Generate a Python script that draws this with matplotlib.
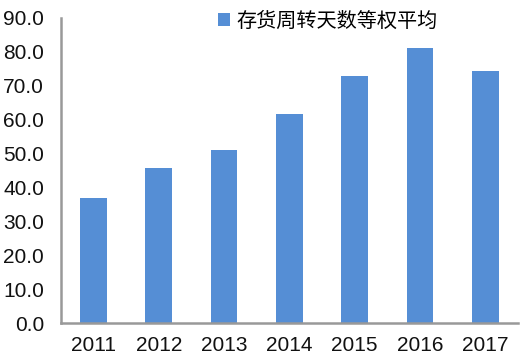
import matplotlib
matplotlib.use('Agg')
import matplotlib.pyplot as plt

years = ['2011', '2012', '2013', '2014', '2015', '2016', '2017']
days = [36.9, 45.7, 51.0, 61.7, 72.9, 81.1, 74.3]
series_name = '存货周转天数等权平均'

plt.rcParams['font.family'] = ['Liberation Sans', 'DejaVu Sans']

fig = plt.figure(figsize=(5.2, 3.59), dpi=100)
ax = fig.add_axes([0.117, 0.1, 0.879, 0.85])

ax.bar(range(len(years)), days, width=0.41, color='#558ed5', label=series_name)

ax.set_xlim(-0.5, len(years) - 0.5)
ax.set_ylim(0, 90)
ax.set_yticks(range(0, 91, 10))
ax.set_yticklabels([f'{v:.1f}' for v in range(0, 91, 10)])
ax.set_xticks(range(len(years)))
ax.set_xticklabels(years)
ax.tick_params(length=0, labelsize=15, colors='#111111')
ax.tick_params(axis='y', pad=12)
ax.tick_params(axis='x', pad=9)

for s in ['top', 'right']:
    ax.spines[s].set_visible(False)
for s in ['left', 'bottom']:
    ax.spines[s].set_color('#999999')
    ax.spines[s].set_linewidth(1.8)

leg = ax.legend(loc='upper left', bbox_to_anchor=(0.305, 1.083), frameon=False,
                handlelength=0.6, handleheight=0.6, handletextpad=0.3,
                prop={'family': ['Noto Sans CJK SC'], 'size': 14.5})

fig.savefig('out.png', dpi=100)
